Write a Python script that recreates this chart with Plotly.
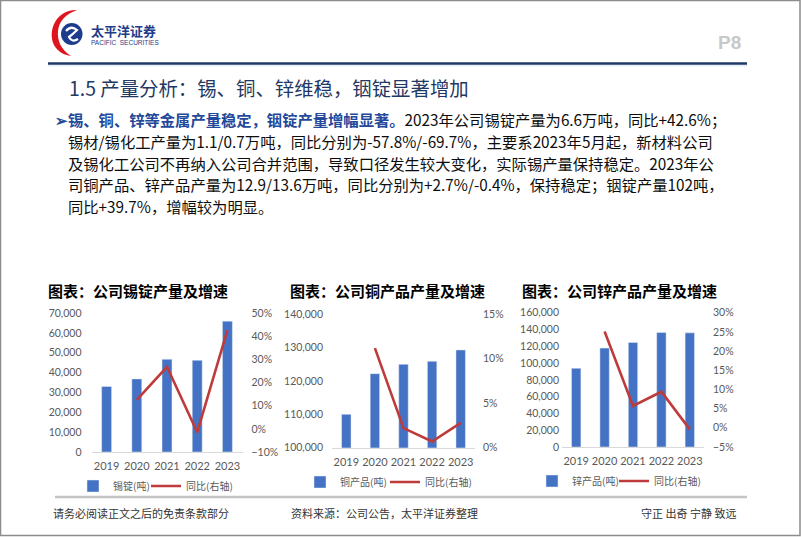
import plotly.graph_objects as go

# ---------------- data ----------------
years = ["2019", "2020", "2021", "2022", "2023"]
tin_output = [33000, 36800, 46700, 46200, 65900]
tin_yoy = [None, 0.125, 0.268, -0.015, 0.426]
copper_output = [110000, 122200, 125000, 125900, 129300]
copper_yoy = [None, 0.112, 0.022, 0.007, 0.028]
zinc_output = [93800, 117800, 124500, 136500, 136000]
zinc_yoy = [None, 0.251, 0.057, 0.094, -0.004]

chart_titles = ["图表：公司锡锭产量及增速", "图表：公司铜产品产量及增速", "图表：公司锌产品产量及增速"]
bar_names = ["锡锭(吨)", "铜产品(吨)", "锌产品(吨)"]
line_name = "同比(右轴)"

section_title = "1.5 产量分析：锡、铜、锌维稳，铟锭显著增加"
body_lines = [
    "<span style='color:#24489A'><b>➢锡、铜、锌等金属产量稳定，铟锭产量增幅显著。</b></span>2023年公司锡锭产量为6.6万吨，同比+42.6%；",
    "锡材/锡化工产量为1.1/0.7万吨，同比分别为-57.8%/-69.7%，主要系2023年5月起，新材料公司",
    "及锡化工公司不再纳入公司合并范围，导致口径发生较大变化，实际锡产量保持稳定。2023年公",
    "司铜产品、锌产品产量为12.9/13.6万吨，同比分别为+2.7%/-0.4%，保持稳定；铟锭产量102吨，",
    "同比+39.7%，增幅较为明显。",
]
footer_left = "请务必阅读正文之后的免责条款部分"
footer_mid = "资料来源：公司公告，太平洋证券整理"
footer_right = "守正 出奇 宁静 致远"

W, H = 802, 537
BLUE = "#4472C4"
RED = "#BF3B3B"
GRAY = "#595959"
NAVY = "#1F3C88"
CJK = "Noto Sans CJK SC"
NUM = "Lato"


def px(x):
    return x / W


def py(y):
    return 1 - y / H


fig = go.Figure()

charts = [
    dict(out=tin_output, yoy=tin_yoy, xa="x", ya="y", ya2="y2", lg="legend", lw=28),
    dict(out=copper_output, yoy=copper_yoy, xa="x2", ya="y3", ya2="y4", lg="legend2", lw=40),
    dict(out=zinc_output, yoy=zinc_yoy, xa="x3", ya="y5", ya2="y6", lg="legend3", lw=37),
]
for i, c in enumerate(charts):
    fig.add_trace(go.Bar(x=years, y=c["out"], name=bar_names[i], marker_color=BLUE,
                         xaxis=c["xa"], yaxis=c["ya"], legend=c["lg"], legendwidth=c["lw"]))
    fig.add_trace(go.Scatter(x=years, y=c["yoy"], name=line_name, mode="lines",
                             line=dict(color=RED, width=2.6),
                             xaxis=c["xa"], yaxis=c["ya2"], legend=c["lg"]))

tickfont = dict(family=NUM, size=10.5, color=GRAY)


def xax(domain, anchor):
    return dict(domain=domain, anchor=anchor, type="category", showline=True,
                linecolor="#D9D9D9", linewidth=1, showgrid=False, zeroline=False,
                ticks="", tickfont=dict(family=NUM, size=11, color=GRAY), ticklabelstandoff=4,
                fixedrange=True)


def yax(domain, anchor, rng, dtick, standoff):
    return dict(domain=domain, anchor=anchor, range=rng, dtick=dtick, tickformat=",d",
                showgrid=False, zeroline=False, showline=False, ticks="", tickfont=tickfont,
                ticklabelstandoff=standoff, fixedrange=True)


def yax2(over, anchor, rng, dtick, standoff):
    return dict(overlaying=over, anchor=anchor, side="right", range=rng, dtick=dtick,
                tickformat=".0%", showgrid=False, zeroline=False, showline=False, ticks="",
                tickfont=tickfont, ticklabelstandoff=standoff, fixedrange=True)


legend_common = dict(orientation="h", xanchor="left", yanchor="middle",
                     font=dict(family=CJK, size=10, color=GRAY), bgcolor="rgba(0,0,0,0)",
                     tracegroupgap=0, itemwidth=30)

fig.update_layout(
    width=W, height=H, margin=dict(l=0, r=0, t=0, b=0, pad=0, autoexpand=False),
    paper_bgcolor="white", plot_bgcolor="rgba(0,0,0,0)",
    font=dict(family=CJK, color="#0D0D0D"),
    bargap=0.67,
    xaxis=xax([px(91.5), px(242.5)], "y"),
    yaxis=yax([py(452), py(313)], "x", [0, 70000], 10000, 9),
    yaxis2=yax2("y", "x", [-0.10, 0.50], 0.10, 8),
    xaxis2=xax([px(332), px(475)], "y3"),
    yaxis3=yax([py(447.7), py(314.3)], "x2", [100000, 140000], 10000, 8),
    yaxis4=yax2("y3", "x2", [0, 0.15], 0.05, 7),
    xaxis3=xax([px(562), px(704)], "y5"),
    yaxis5=yax([py(447), py(312.7)], "x3", [0, 160000], 20000, 2),
    yaxis6=yax2("y5", "x3", [-0.05, 0.30], 0.05, 8),
    legend=dict(x=px(73), y=py(486), **legend_common),
    legend2=dict(x=px(300), y=py(482), **legend_common),
    legend3=dict(x=px(532), y=py(481), **legend_common),
)

P = dict(xref="paper", yref="paper")
shapes = [
    # page frame
    dict(type="rect", x0=px(0.5), x1=px(800), y0=py(0.5), y1=py(535.5),
         line=dict(color="#8C8C8C", width=1.5), **P),
    # header rule
    dict(type="line", x0=px(48), x1=px(747), y0=py(63.5), y1=py(63.5),
         line=dict(color="#1F3864", width=2.5), **P),
    dict(type="line", x0=px(48), x1=px(747), y0=py(65.8), y1=py(65.8),
         line=dict(color="#DCE6F2", width=1), **P),
    # footer rule
    dict(type="line", x0=px(55), x1=px(747), y0=py(497), y1=py(497),
         line=dict(color="#C4C4C4", width=2.5), **P),
    # logo: red crescent
    dict(type="path",
         path=f"M {px(77)},{py(10)} C {px(57)},{py(9)} {px(47)},{py(30)} {px(54)},{py(45)} "
              f"C {px(58)},{py(52)} {px(64)},{py(55)} {px(71)},{py(56)} "
              f"C {px(61)},{py(50)} {px(57)},{py(40)} {px(58)},{py(31)} "
              f"C {px(59)},{py(21)} {px(66)},{py(14)} {px(77)},{py(10)} Z",
         fillcolor="#E0141E", line=dict(width=0), **P),
    # logo: blue disc
    dict(type="circle", x0=px(61), x1=px(82.5), y0=py(23), y1=py(45),
         fillcolor="#1E3C8C", line=dict(width=0), **P),
    # logo: white swirl
    dict(type="path",
         path=f"M {px(66)},{py(31)} Q {px(71)},{py(25)} {px(77)},{py(30)} "
              f"Q {px(73)},{py(34)} {px(69)},{py(37)} Q {px(72)},{py(43)} {px(78)},{py(39)}",
         line=dict(color="white", width=2.2), **P),
]
fig.update_layout(shapes=shapes)

ann = []


def text(x, y, t, size, color="#0D0D0D", family=CJK, xanchor="left", bold=False):
    ann.append(dict(x=px(x), y=py(y), xref="paper", yref="paper", text=(f"<b>{t}</b>" if bold else t),
                    showarrow=False, xanchor=xanchor, yanchor="middle",
                    font=dict(family=family, size=size, color=color)))


text(89, 30.5, "太平洋证券", 13, NAVY, bold=True)
text(89, 42.5, "PACIFIC  SECURITIES", 6.5, NAVY, family="Liberation Sans")
text(716, 42.5, "P8", 19, "#C8C8C8", family="Liberation Sans", bold=True)
text(67, 87, section_title, 19.4, "#1F3864")

line_y = [119, 141, 163, 184.5, 206]
for i, t in enumerate(body_lines):
    text(53 if i == 0 else 66, line_y[i], t, 15.3)

text(46, 290, chart_titles[0], 15, "#000000", bold=True)
text(288, 290, chart_titles[1], 15, "#000000", bold=True)
text(520, 290, chart_titles[2], 15, "#000000", bold=True)

text(51, 513, footer_left, 11, "#333333")
text(289, 513, footer_mid, 11, "#333333")
text(639, 513, footer_right, 11, "#333333")

fig.update_layout(annotations=ann)

fig.write_html("out.html")
